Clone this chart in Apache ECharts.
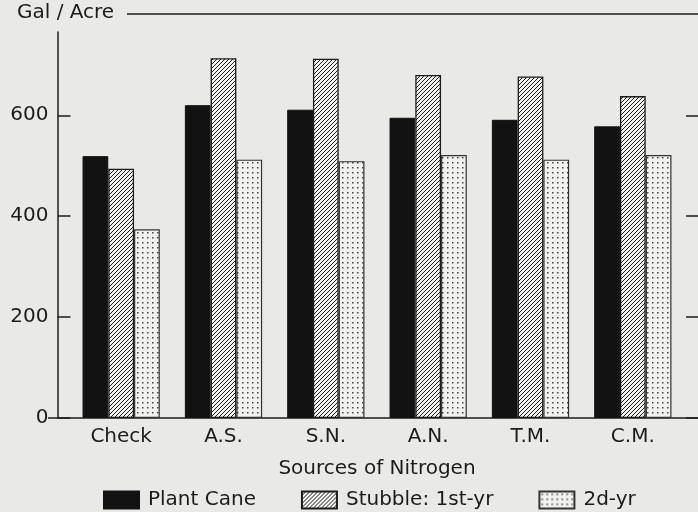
<!DOCTYPE html>
<html>
<head>
<meta charset="utf-8">
<script src="https://cdn.jsdelivr.net/npm/echarts@6/dist/echarts.min.js"></script>
<style>
  html, body { margin: 0; padding: 0; background: #e9e9e7; }
  #chart { width: 698px; height: 512px; }
</style>
</head>
<body>
<div id="chart"></div>
<script>
const categories = ['Check', 'A.S.', 'S.N.', 'A.N.', 'T.M.', 'C.M.']
const plantCane = [519, 620, 611, 595, 591, 578]
const stubble1st = [494, 713, 712, 680, 677, 638]
const stubble2d = [374, 512, 509, 521, 512, 521]
const yTicks = [0, 200, 400, 600]

const ink = '#1c1c1c'
const font = 'DejaVu Sans'

function hatchPattern() {
  const c = document.createElement('canvas')
  c.width = 4
  c.height = 4
  const ctx = c.getContext('2d')
  ctx.fillStyle = '#f1f1ef'
  ctx.fillRect(0, 0, 4, 4)
  ctx.strokeStyle = '#222'
  ctx.lineWidth = 1.0
  ctx.beginPath()
  ctx.moveTo(0, 4); ctx.lineTo(4, 0)
  ctx.moveTo(-1, 1); ctx.lineTo(1, -1)
  ctx.moveTo(3, 5); ctx.lineTo(5, 3)
  ctx.stroke()
  return { image: c, repeat: 'repeat' }
}

function dotPattern() {
  const c = document.createElement('canvas')
  c.width = 5
  c.height = 5
  const ctx = c.getContext('2d')
  ctx.fillStyle = '#f1f1ef'
  ctx.fillRect(0, 0, 5, 5)
  ctx.fillStyle = '#444'
  ctx.fillRect(2, 2, 1.5, 1.5)
  return { image: c, repeat: 'repeat' }
}

const chart = echarts.init(document.getElementById('chart'))

chart.setOption({
  backgroundColor: '#e9e9e7',
  animation: false,
  textStyle: { fontFamily: font, color: ink },
  grid: { left: 70, right: 14, top: 32, bottom: 94 },
  legend: {
    left: 98,
    top: 485,
    icon: 'rect',
    itemWidth: 35,
    itemHeight: 17,
    itemGap: 45,
    selectedMode: false,
    textStyle: { fontSize: 20, color: ink, padding: [0, 0, 0, 4] },
    data: ['Plant Cane', 'Stubble: 1st-yr', '2d-yr']
  },
  graphic: [
    {
      type: 'text',
      left: 17,
      top: 3,
      style: { text: 'Gal / Acre', font: '20px ' + font, fill: ink }
    },
    {
      type: 'line',
      shape: { x1: 127, y1: 14, x2: 698, y2: 14 },
      style: { stroke: ink, lineWidth: 1.5 }
    },
    {
      type: 'line',
      shape: { x1: 48, y1: 418, x2: 698, y2: 418 },
      style: { stroke: ink, lineWidth: 1.5 }
    }
  ],
  xAxis: {
    type: 'category',
    data: categories,
    name: 'Sources of Nitrogen',
    nameLocation: 'middle',
    nameGap: 41,
    nameTextStyle: { fontSize: 20, color: ink },
    axisLine: { show: false },
    axisTick: { show: false },
    axisLabel: { fontSize: 20, color: ink, margin: 9 }
  },
  yAxis: [
    {
      type: 'value',
      min: 0,
      max: 765,
      offset: 12.5,
      splitLine: { show: false },
      axisLine: { show: true, lineStyle: { color: ink, width: 1.5 } },
      axisTick: { show: true, inside: true, length: 13, customValues: yTicks, lineStyle: { color: ink, width: 1.5 } },
      axisLabel: { fontSize: 20, color: ink, margin: 9, customValues: yTicks }
    },
    {
      type: 'value',
      position: 'right',
      min: 0,
      max: 765,
      offset: 14,
      splitLine: { show: false },
      axisLine: { show: false },
      axisTick: { show: true, inside: true, length: 12, customValues: yTicks, lineStyle: { color: ink, width: 1.5 } },
      axisLabel: { show: false }
    }
  ],
  series: [
    {
      name: 'Plant Cane',
      type: 'bar',
      barGap: '0%',
      barCategoryGap: '24.5%',
      data: plantCane,
      itemStyle: { color: '#121212', borderColor: '#121212', borderWidth: 1 }
    },
    {
      name: 'Stubble: 1st-yr',
      type: 'bar',
      barGap: '0%',
      barCategoryGap: '24.5%',
      data: stubble1st,
      itemStyle: { color: hatchPattern(), borderColor: ink, borderWidth: 1.3 }
    },
    {
      name: '2d-yr',
      type: 'bar',
      barGap: '0%',
      barCategoryGap: '24.5%',
      data: stubble2d,
      itemStyle: { color: dotPattern(), borderColor: '#333', borderWidth: 1.2 }
    }
  ]
})
</script>
</body>
</html>
